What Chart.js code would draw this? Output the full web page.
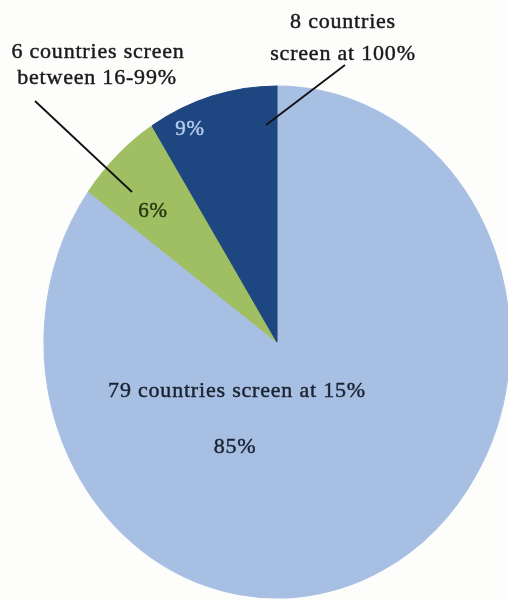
<!DOCTYPE html>
<html>
<head>
<meta charset="utf-8">
<script src="https://cdn.jsdelivr.net/npm/chart.js@4"></script>
<style>
  html, body { margin: 0; padding: 0; background: #fdfdfc; overflow: hidden; }
  #wrap { position: relative; width: 508px; height: 600px; }
</style>
</head>
<body>
<div id="wrap"><canvas id="pie" width="508" height="600"></canvas></div>
<script>
// Screening coverage by country group (share of countries, %)
const categories = ['79 countries screen at 15%', '6 countries screen between 16-99%', '8 countries screen at 100%'];
const shares = [85, 6, 9];
const sliceColors = ['#a8bfe4', '#a0bf62', '#1e4681'];
const percentLabels = ['85%', '6%', '9%'];

// Pie is drawn slightly oval: horizontal / vertical radius in px
const RX = 233, RY = 256;

const serif = '"Liberation Serif", "Times New Roman", serif';

function drawText(ctx, text, x, y, size, color, spacing) {
  ctx.save();
  ctx.font = size + 'px ' + serif;
  ctx.fillStyle = color;
  ctx.strokeStyle = color;
  ctx.lineWidth = 0.45;
  ctx.textAlign = 'center';
  ctx.textBaseline = 'alphabetic';
  if ('letterSpacing' in ctx) ctx.letterSpacing = spacing + 'px';
  ctx.fillText(text, x, y);
  ctx.strokeText(text, x, y);
  ctx.restore();
}

const ovalPie = {
  id: 'ovalPie',
  beforeDatasetsDraw(chart) {
    const arc = chart.getDatasetMeta(0).data[0];
    const { x, y, outerRadius } = arc;
    const ctx = chart.ctx;
    ctx.save();
    ctx.translate(x, y);
    ctx.scale(RX / outerRadius, RY / outerRadius);
    ctx.translate(-x, -y);
  },
  afterDatasetsDraw(chart) {
    chart.ctx.restore();
  },
  afterDraw(chart) {
    const ctx = chart.ctx;
    const arc = chart.getDatasetMeta(0).data[0];
    const cx = arc.x, cy = arc.y;

    // values inside the slices
    drawText(ctx, categories[0], cx - 40, cy + 55, 22, '#1a2331', 0.8);
    drawText(ctx, percentLabels[0], cx - 42, cy + 111, 22, '#1a2331', 0.8);
    drawText(ctx, percentLabels[1], cx - 124, cy - 125, 21, '#283812', 0.8);
    drawText(ctx, percentLabels[2], cx - 87, cy - 207, 21, '#b4cbee', 0.8);

    // callouts above the pie
    drawText(ctx, '8 countries', 343, 28, 22, '#1a1a1a', 0.8);
    drawText(ctx, 'screen at 100%', 343, 60, 22, '#1a1a1a', 0.8);
    drawText(ctx, '6 countries screen', 98, 58, 22, '#1a1a1a', 0.8);
    drawText(ctx, 'between 16-99%', 97, 84, 22, '#1a1a1a', 0.8);

    // leader lines
    ctx.save();
    ctx.strokeStyle = '#111';
    ctx.lineWidth = 1.8;
    ctx.beginPath();
    ctx.moveTo(345, 65);
    ctx.lineTo(cx - 11, cy - 217);
    ctx.moveTo(35, 101);
    ctx.lineTo(cx - 145, cy - 150);
    ctx.stroke();
    ctx.restore();
  }
};

new Chart(document.getElementById('pie'), {
  type: 'pie',
  data: {
    labels: categories,
    datasets: [{
      data: shares,
      backgroundColor: sliceColors,
      borderColor: sliceColors,
      borderWidth: 1,
      hoverOffset: 0,
      radius: 220
    }]
  },
  options: {
    responsive: false,
    animation: false,
    rotation: 0,
    layout: { padding: { left: 58, right: 12, top: 122, bottom: 38 } },
    plugins: {
      legend: { display: false },
      tooltip: { enabled: false }
    }
  },
  plugins: [ovalPie]
});
</script>
</body>
</html>
